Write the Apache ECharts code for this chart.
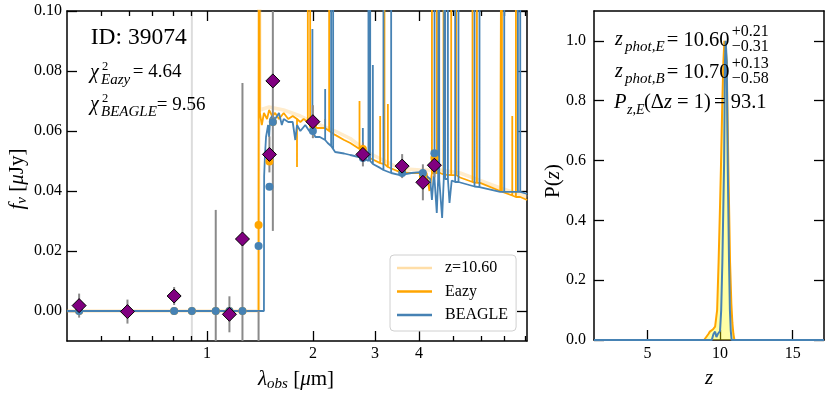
<!DOCTYPE html>
<html>
<head>
<meta charset="utf-8">
<script src="https://cdn.jsdelivr.net/npm/echarts@6/dist/echarts.min.js"></script>
<style>
html, body { margin: 0; padding: 0; background: #fff; }
#chart { width: 830px; height: 396px; }
</style>
</head>
<body>
<div id="chart"></div>
<script>
var SERIF = 'Liberation Serif';

// observed photometry (micron, uJy)
var photWave = [0.433, 0.594, 0.806, 1.157, 1.26, 1.503, 1.537, 1.997, 2.77, 3.58, 4.10, 4.42];
var photFlux = [0.0018, -0.0002, 0.005, -0.0011, 0.024, 0.0522, 0.0767, 0.0631, 0.0522, 0.0483, 0.0429, 0.0486];
var photErr = [0.004, 0.004, 0.003, 0.006, 0.052, 0.006, 0.050, 0.0055, 0.004, 0.004, 0.006, 0.004];

// bands whose point falls below the plot, only the error bar shows
var lowWave = [1.058, 1.40];
var lowBottom = [-0.08, -0.06];
var lowTop = [0.0337, 0.0];
// band drawn faint
var faintWave = [0.905];
var faintBottom = [-0.2];
var faintTop = [0.2];

// model photometry
var modelWave = [0.433, 0.594, 0.806, 0.905, 1.058, 1.157, 1.26, 1.40, 1.503, 1.537, 1.997, 2.77, 3.58, 4.10, 4.42];
var beagleModel = [0, 0, 0, 0, 0, 0, 0, 0.0217, 0.0414, 0.063, 0.060, 0.051, 0.046, 0.046, 0.0526];
var eazyModel = [0, 0, 0, 0, 0, 0, 0, 0.0287, 0.0498, 0.063, 0.062, 0.054, 0.047, 0.045, 0.051];

// best fit spectra [micron, uJy]
var zBandSpec = [[0.40,0],[1.400,0],[1.405,0.2],[1.412,0.067],[1.50,0.068],[1.65,0.067],[1.84,0.065],[2.00,0.063],
  [2.31,0.060],[2.55,0.0575],[2.90,0.0525],[3.53,0.0475],[4.03,0.047],[4.59,0.047],[5.23,0.046],[5.96,0.0435],
  [6.80,0.041],[8.11,0.038]];

var eazySpec = [[0.40,0],[1.400,0],[1.405,0.2],[1.412,0.066],[1.43,0.062],[1.45,0.066],[1.48,0.064],[1.50,0.067],
  [1.53,0.065],[1.56,0.066],[1.60,0.064],[1.65,0.066],[1.70,0.064],[1.75,0.065],[1.80,0.064],[1.80,0.048],[1.80,0.064],
  [1.84,0.063],[1.88,0.064],[1.932,0.063],[1.932,0.2],[1.932,0.063],[1.962,0.062],[1.962,0.2],[1.962,0.062],
  [2.00,0.062],[2.05,0.061],[2.09,0.061],[2.164,0.061],[2.164,0.064],[2.164,0.061],[2.221,0.060],[2.221,0.2],[2.221,0.060],
  [2.31,0.0587],[2.45,0.057],[2.55,0.056],[2.709,0.054],[2.709,0.070],[2.709,0.054],[2.77,0.053],[2.90,0.051],
  [3.101,0.0493],[3.101,0.065],[3.101,0.0493],[3.189,0.049],[3.189,0.2],[3.189,0.049],[3.261,0.048],[3.261,0.069],[3.261,0.048],
  [3.53,0.0463],[3.80,0.046],[4.03,0.046],[4.20,0.046],[4.28,0.040],[4.35,0.046],[4.35,0.2],[4.35,0.046],
  [4.494,0.046],[4.494,0.2],[4.494,0.046],[4.59,0.046],[4.692,0.0455],[4.692,0.2],[4.692,0.0455],
  [4.934,0.0453],[4.934,0.2],[4.934,0.0453],[5.098,0.0453],[5.098,0.2],[5.098,0.0453],[5.23,0.0445],
  [5.672,0.043],[5.672,0.2],[5.672,0.043],[5.838,0.0427],[5.838,0.2],[5.838,0.0427],[5.96,0.0427],[6.80,0.040],
  [6.875,0.0398],[6.875,0.2],[6.875,0.0398],[7.356,0.0385],[7.356,0.065],[7.356,0.0385],
  [7.534,0.038],[7.534,0.2],[7.534,0.038],[7.75,0.038],[8.11,0.037]];

var beagleSpec = [[0.40,0],[1.450,0],[1.452,0.045],[1.46,0.052],[1.47,0.058],[1.48,0.060],[1.49,0.062],[1.50,0.058],
  [1.51,0.064],[1.53,0.065],[1.56,0.064],[1.60,0.066],[1.63,0.062],[1.65,0.064],[1.70,0.063],[1.75,0.063],[1.78,0.057],
  [1.80,0.062],[1.84,0.060],[1.90,0.062],[1.95,0.060],[1.991,0.060],[1.991,0.094],[1.991,0.060],[2.03,0.058],[2.09,0.058],
  [2.164,0.057],[2.164,0.074],[2.164,0.057],[2.20,0.056],[2.250,0.055],[2.250,0.2],[2.250,0.055],
  [2.280,0.054],[2.280,0.2],[2.280,0.054],[2.31,0.053],[2.45,0.0525],[2.55,0.052],
  [2.769,0.051],[2.769,0.061],[2.769,0.051],[2.872,0.050],[2.872,0.2],[2.872,0.050],[2.905,0.050],[2.905,0.2],[2.905,0.050],
  [2.956,0.049],[2.956,0.082],[2.956,0.049],[3.10,0.0477],[3.168,0.047],[3.168,0.2],[3.168,0.047],
  [3.332,0.046],[3.332,0.2],[3.332,0.046],[3.53,0.0453],[3.80,0.046],[4.03,0.0463],[4.20,0.045],[4.30,0.044],
  [4.35,0.037],[4.40,0.045],[4.424,0.044],[4.424,0.2],[4.424,0.044],[4.49,0.0327],[4.53,0.044],
  [4.562,0.044],[4.562,0.2],[4.562,0.044],[4.65,0.031],[4.70,0.044],[4.744,0.044],[4.744,0.2],[4.744,0.044],
  [4.829,0.044],[4.829,0.2],[4.829,0.044],[4.88,0.036],[4.95,0.0435],[5.064,0.043],[5.064,0.2],[5.064,0.043],
  [5.175,0.043],[5.175,0.2],[5.175,0.043],[5.23,0.043],[5.747,0.0415],[5.747,0.2],[5.747,0.0415],
  [5.937,0.0413],[5.937,0.2],[5.937,0.0413],[6.80,0.0397],[6.98,0.0397],[6.98,0.2],[6.98,0.0397],
  [7.633,0.0397],[7.633,0.2],[7.633,0.0397],[7.75,0.0397],[7.75,0.2],[7.75,0.0397],[8.11,0.039]];

// P(z)
var eazyPz = [[1.32,0],[8.9,0],[9.0,0.002],[9.2,0.02],[9.3,0.028],[9.5,0.035],[9.66,0.045],[9.8,0.1],[9.9,0.26],
  [10.0,0.45],[10.07,0.593],[10.15,0.78],[10.23,0.93],[10.3,1.0],[10.38,0.98],[10.46,0.93],[10.57,0.59],
  [10.69,0.26],[10.78,0.12],[10.85,0.057],[10.92,0.02],[10.99,0],[17.16,0]];
var beaglePz = [[1.32,0],[9.43,0],[9.55,0.02],[9.66,0.028],[9.75,0.01],[9.85,0.02],[10.0,0.03],[10.08,0.1],
  [10.16,0.26],[10.28,0.59],[10.34,0.93],[10.39,1.0],[10.46,0.93],[10.53,0.59],[10.62,0.26],[10.68,0.1],
  [10.74,0.03],[10.8,0],[17.16,0]];

// ticks
var waveMajor = [1, 2, 3, 4];
var waveMinor = [0.5, 0.6, 0.7, 0.8, 0.9, 5, 6, 7, 8];
var fluxTicks = [0, 0.02, 0.04, 0.06, 0.08, 0.10];
var zTicks = [5, 10, 15];
var pzTicks = [0, 0.2, 0.4, 0.6, 0.8, 1.0];

var ORANGE = '#FFA500';
var BLUE = '#4682B4';
var PALE = 'rgba(255,200,110,0.35)';

var photData = [];
for (var i = 0; i < photWave.length; i++) {
  photData.push([photWave[i], photFlux[i]]);
}
var errData = [];
for (var i = 0; i < photWave.length; i++) {
  errData.push([photWave[i], photFlux[i] - photErr[i], photFlux[i] + photErr[i]]);
}
for (var i = 0; i < lowWave.length; i++) {
  errData.push([lowWave[i], lowBottom[i], lowTop[i]]);
}
var faintData = [];
for (var i = 0; i < faintWave.length; i++) {
  faintData.push([faintWave[i], faintBottom[i], faintTop[i]]);
}
var beagleModelData = [], eazyModelData = [];
for (var i = 0; i < modelWave.length; i++) {
  beagleModelData.push([modelWave[i], beagleModel[i]]);
  eazyModelData.push([modelWave[i], eazyModel[i]]);
}

function errBars(color) {
  return function (params, api) {
    var top = api.coord([api.value(0), api.value(2)]);
    var bot = api.coord([api.value(0), api.value(1)]);
    var cs = params.coordSys;
    var y1 = Math.max(cs.y, Math.min(cs.y + cs.height, top[1]));
    var y2 = Math.max(cs.y, Math.min(cs.y + cs.height, bot[1]));
    return {
      type: 'line',
      shape: { x1: top[0], y1: y1, x2: bot[0], y2: y2 },
      style: { stroke: color, lineWidth: 2 }
    };
  };
}

function frameAxis(extra) {
  var base = {
    splitLine: { show: false },
    axisLine: { show: true, onZero: false, lineStyle: { color: '#000', width: 1.5 } },
    axisTick: { show: true, inside: true, length: 10, lineStyle: { color: '#000', width: 1.3 } },
    axisLabel: { show: false, color: '#000', fontFamily: SERIF, fontSize: 16 }
  };
  for (var k in extra) {
    if (typeof extra[k] === 'object' && base[k] && !Array.isArray(extra[k])) {
      for (var j in extra[k]) base[k][j] = extra[k][j];
    } else {
      base[k] = extra[k];
    }
  }
  return base;
}

function txt(x, y, s, size, italic) {
  return {
    type: 'text', x: x, y: y, z: 100,
    style: {
      text: s, fontFamily: SERIF, fontSize: size, fontStyle: italic ? 'italic' : 'normal',
      fill: '#000', align: 'left', verticalAlign: 'middle'
    }
  };
}

var richAxis = {
  i: { fontFamily: SERIF, fontSize: 21, fontStyle: 'italic', lineHeight: 26 },
  s: { fontFamily: SERIF, fontSize: 15, fontStyle: 'italic', verticalAlign: 'bottom' }
};

var graphics = [
  txt(90.7, 37.5, 'ID: 39074', 23.5, false),
  txt(90, 73, 'χ', 20, true),
  txt(102, 67, '2', 12.5, false),
  txt(101, 80.5, 'Eazy', 15, true),
  txt(132.7, 72, '= 4.64', 19, false),
  txt(90, 105, 'χ', 20, true),
  txt(102, 99, '2', 12.5, false),
  txt(101, 112.5, 'BEAGLE', 15, true),
  txt(156.7, 105, '= 9.56', 19, false),

  txt(615, 40, 'z', 20, true),
  txt(625, 47, 'phot,E', 15, true),
  txt(666.7, 40.5, '= 10.60', 20.5, false),
  txt(731.7, 32, '+0.21', 16, false),
  txt(731.7, 46.5, '−0.31', 16, false),
  txt(615, 72, 'z', 20, true),
  txt(625, 79, 'phot,B', 15, true),
  txt(666.7, 72.5, '= 10.70', 20.5, false),
  txt(731.7, 64, '+0.13', 16, false),
  txt(731.7, 79, '−0.58', 16, false),
  txt(614, 103, 'P', 20.5, true),
  txt(627, 110, 'z,E', 14, true),
  {
    type: 'text', x: 644, y: 103, z: 100,
    style: {
      text: '(Δ{i|z} = 1)', fontFamily: SERIF, fontSize: 20.5, fill: '#000', align: 'left', verticalAlign: 'middle',
      rich: { i: { fontFamily: SERIF, fontSize: 20.5, fontStyle: 'italic' } }
    }
  },
  txt(714, 103, '= 93.1', 20.5, false),

  {
    type: 'text', x: 296, y: 379, z: 100,
    style: {
      text: '{i|λ}{s|obs} [{i|μ}m]', fontFamily: SERIF, fontSize: 21, lineHeight: 26, fill: '#000',
      align: 'center', verticalAlign: 'middle', rich: richAxis
    }
  },
  {
    type: 'text', x: 17, y: 179, z: 100, rotation: Math.PI / 2,
    style: {
      text: '{i|f}{s|ν} [{i|μ}Jy]', fontFamily: SERIF, fontSize: 21, lineHeight: 26, fill: '#000',
      align: 'center', verticalAlign: 'middle', rich: richAxis
    }
  },
  {
    type: 'text', x: 553, y: 181, z: 100, rotation: Math.PI / 2,
    style: {
      text: 'P({i|z})', fontFamily: SERIF, fontSize: 21, lineHeight: 26, fill: '#000',
      align: 'center', verticalAlign: 'middle', rich: richAxis
    }
  },
  txt(705, 378, 'z', 21, true)
];

var chart = echarts.init(document.getElementById('chart'), null, { renderer: 'canvas' });

var option = {
  animation: false,
  backgroundColor: '#fff',
  graphic: graphics,
  legend: {
    left: 390, top: 255, orient: 'vertical',
    data: [
      { name: 'z=10.60', icon: 'rect', itemStyle: { color: 'rgba(255,200,110,0.6)' } },
      { name: 'Eazy', icon: 'rect', itemStyle: { color: ORANGE } },
      { name: 'BEAGLE', icon: 'rect', itemStyle: { color: BLUE } }
    ],
    itemWidth: 35, itemHeight: 2.5, itemGap: 7.5,
    padding: [5, 8, 8, 7],
    backgroundColor: 'rgba(255,255,255,0.85)',
    borderColor: '#d0d0d0', borderWidth: 1, borderRadius: 4,
    textStyle: { fontFamily: SERIF, fontSize: 16, color: '#000', padding: [0, 0, 0, 8] }
  },
  grid: [
    { left: 67, top: 11, width: 460, height: 330 },
    { left: 594, top: 11, width: 230, height: 329 }
  ],
  xAxis: [
    frameAxis({ gridIndex: 0, type: 'log', logBase: 10, min: 0.4, max: 8.1, position: 'bottom',
      axisTick: { customValues: waveMajor },
      axisLabel: { show: true, customValues: waveMajor, margin: 5, formatter: function (v) { return String(Math.round(v)); } } }),
    frameAxis({ gridIndex: 0, type: 'log', logBase: 10, min: 0.4, max: 8.1, position: 'bottom',
      axisLine: { show: false }, axisTick: { customValues: waveMinor, length: 5 } }),
    frameAxis({ gridIndex: 0, type: 'log', logBase: 10, min: 0.4, max: 8.1, position: 'top',
      axisTick: { customValues: waveMajor } }),
    frameAxis({ gridIndex: 0, type: 'log', logBase: 10, min: 0.4, max: 8.1, position: 'top',
      axisLine: { show: false }, axisTick: { customValues: waveMinor, length: 5 } }),
    frameAxis({ gridIndex: 1, type: 'value', min: 1.32, max: 17.16, position: 'bottom',
      axisTick: { customValues: zTicks },
      axisLabel: { show: true, customValues: zTicks, margin: 6 } }),
    frameAxis({ gridIndex: 1, type: 'value', min: 1.32, max: 17.16, position: 'top',
      axisTick: { show: false } })
  ],
  yAxis: [
    frameAxis({ gridIndex: 0, type: 'value', min: -0.01, max: 0.1, position: 'left',
      axisTick: { customValues: fluxTicks },
      axisLabel: { show: true, customValues: fluxTicks, margin: 5, formatter: function (v) { return v.toFixed(2); } } }),
    frameAxis({ gridIndex: 0, type: 'value', min: -0.01, max: 0.1, position: 'right',
      axisTick: { customValues: fluxTicks } }),
    frameAxis({ gridIndex: 1, type: 'value', min: 0, max: 1.1, position: 'left',
      axisTick: { customValues: pzTicks },
      axisLabel: { show: true, customValues: pzTicks, margin: 8, formatter: function (v) { return v.toFixed(1); } } }),
    frameAxis({ gridIndex: 1, type: 'value', min: 0, max: 1.1, position: 'right',
      axisTick: { customValues: pzTicks } })
  ],
  series: [
    {
      name: 'z=10.60', type: 'line', xAxisIndex: 0, yAxisIndex: 0, data: zBandSpec,
      symbol: 'none', lineStyle: { color: PALE, width: 3.5 },
      itemStyle: { color: PALE }, z: 1
    },
    {
      name: 'Eazy', type: 'line', xAxisIndex: 0, yAxisIndex: 0, data: eazySpec,
      symbol: 'none', lineStyle: { color: ORANGE, width: 1.8 }, itemStyle: { color: ORANGE }, z: 2
    },
    {
      name: 'BEAGLE', type: 'line', xAxisIndex: 0, yAxisIndex: 0, data: beagleSpec,
      symbol: 'none', lineStyle: { color: BLUE, width: 1.8 }, itemStyle: { color: BLUE }, z: 3
    },
    {
      type: 'custom', xAxisIndex: 0, yAxisIndex: 0, data: faintData,
      renderItem: errBars('#dcdcdc'), z: 0
    },
    {
      type: 'custom', xAxisIndex: 0, yAxisIndex: 0, data: errData,
      renderItem: errBars('#8a8a8a'), z: 4
    },
    {
      type: 'scatter', xAxisIndex: 0, yAxisIndex: 0, data: eazyModelData,
      symbol: 'circle', symbolSize: 8, itemStyle: { color: ORANGE, opacity: 1 }, z: 5
    },
    {
      type: 'scatter', xAxisIndex: 0, yAxisIndex: 0, data: beagleModelData,
      symbol: 'circle', symbolSize: 8, itemStyle: { color: BLUE, opacity: 1 }, z: 6
    },
    {
      type: 'scatter', xAxisIndex: 0, yAxisIndex: 0, data: photData,
      symbol: 'diamond', symbolSize: [14, 14],
      itemStyle: { color: '#800080', borderColor: '#000', borderWidth: 1, opacity: 1 }, z: 7
    },
    {
      type: 'line', xAxisIndex: 4, yAxisIndex: 2, data: eazyPz, symbol: 'none',
      lineStyle: { color: ORANGE, width: 2 },
      areaStyle: { color: 'rgba(255,255,0,0.5)', origin: 'start' }, z: 2
    },
    {
      type: 'line', xAxisIndex: 4, yAxisIndex: 2, data: beaglePz, symbol: 'none',
      lineStyle: { color: BLUE, width: 2 }, z: 3
    }
  ]
};

chart.setOption(option);
</script>
</body>
</html>
